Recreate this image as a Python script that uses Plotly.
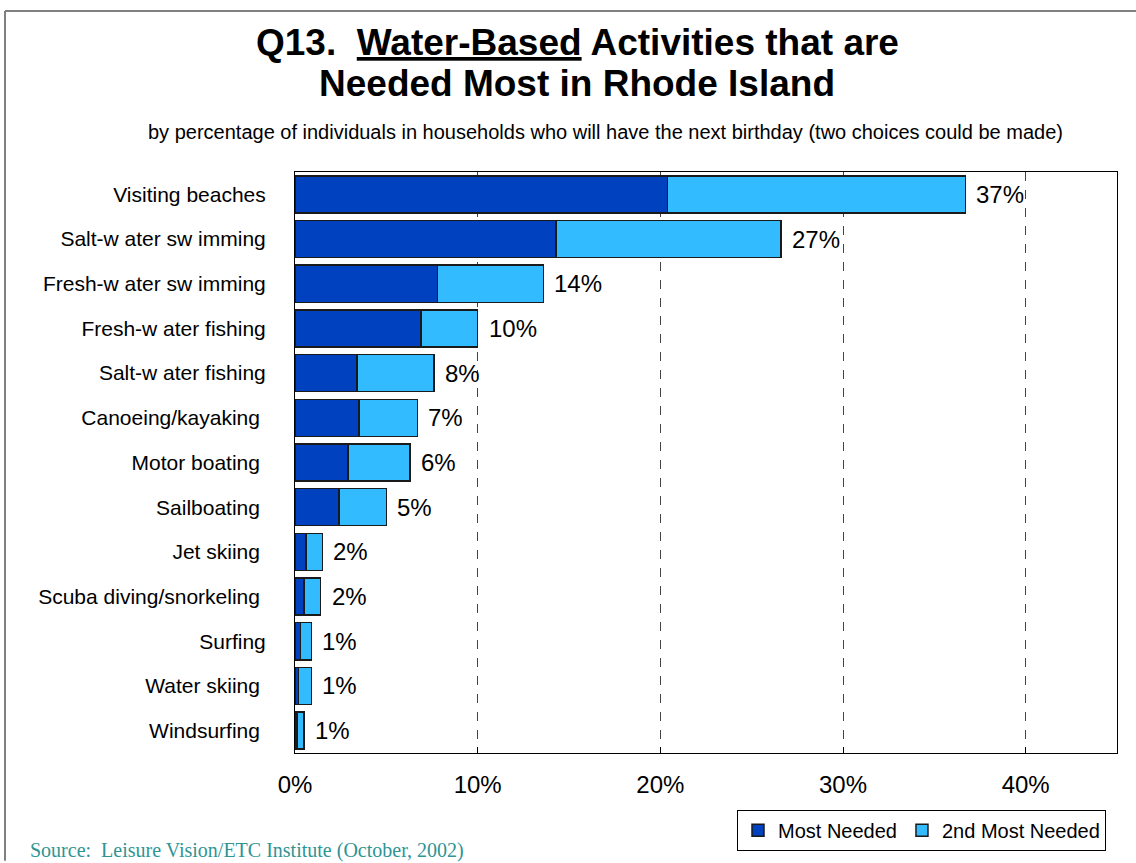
import plotly.graph_objects as go

# Survey data: share of respondents choosing each water-based activity
activities = [
    "Visiting beaches",
    "Salt-w ater sw imming",
    "Fresh-w ater sw imming",
    "Fresh-w ater fishing",
    "Salt-w ater fishing",
    "Canoeing/kayaking ",
    "Motor boating ",
    "Sailboating ",
    "Jet skiing ",
    "Scuba diving/snorkeling ",
    "Surfing",
    "Water skiing ",
    "Windsurfing ",
]
most_needed = [20.4, 14.3, 7.8, 6.9, 3.4, 3.5, 2.9, 2.4, 0.6, 0.5, 0.3, 0.2, 0.1]
second_most_needed = [16.3, 12.3, 5.8, 3.1, 4.2, 3.2, 3.4, 2.6, 0.9, 0.9, 0.6, 0.7, 0.4]
total_labels = ["37%", "27%", "14%", "10%", "8%", "7%", "6%", "5%", "2%", "2%", "1%", "1%", "1%"]

x_ticks = [0, 10, 20, 30, 40]
x_tick_text = ["0%", "10%", "20%", "30%", "40%"]

DARK = "#0041BF"
LIGHT = "#33BBFF"
FONT = "Liberation Sans, Arial, sans-serif"

W, H = 1136, 863
ML, MR, MT, MB = 295, 19, 172, 108
PW, PH = W - ML - MR, H - MT - MB


def px_x(p):
    return (p - ML) / PW


def px_y(p):
    return (H - MB - p) / PH


fig = go.Figure()
fig.add_trace(go.Bar(
    y=activities, x=most_needed, orientation="h", name="Most Needed",
    marker=dict(color=DARK, line=dict(color="#1a1a1a", width=1.5)),
))
fig.add_trace(go.Bar(
    y=activities, x=second_most_needed, orientation="h", name="2nd Most Needed",
    marker=dict(color=LIGHT, line=dict(color="#1a1a1a", width=1.5)),
))

annotations = []
for act, a, b, lab in zip(activities, most_needed, second_most_needed, total_labels):
    annotations.append(dict(
        x=a + b, y=act, xref="x", yref="y", text=lab, showarrow=False,
        xanchor="left", xshift=9, font=dict(family=FONT, size=24, color="#000"),
    ))

# Title block
title_font = dict(family=FONT, size=37, color="#000")
annotations += [
    dict(x=px_x(577), y=px_y(42), xref="paper", yref="paper", showarrow=False,
         xanchor="center", yanchor="middle",
         text="<b>Q13.  <u>Water-Based</u> Activities that are</b>", font=title_font),
    dict(x=px_x(577), y=px_y(83), xref="paper", yref="paper", showarrow=False,
         xanchor="center", yanchor="middle",
         text="<b>Needed Most in Rhode Island</b>", font=title_font),
    dict(x=px_x(605), y=px_y(132), xref="paper", yref="paper", showarrow=False,
         xanchor="center", yanchor="middle",
         text="by percentage of individuals in households who will have the next birthday (two choices could be made)",
         font=dict(family=FONT, size=20, color="#000")),
    dict(x=px_x(28), y=px_y(853), xref="paper", yref="paper", showarrow=False,
         xanchor="left", yanchor="middle",
         text="Source:  Leisure Vision/ETC Institute (October, 2002)",
         font=dict(family="Liberation Serif, Times New Roman, serif", size=20, color="#2E9494")),
]

shapes = [
    # page frame along the top and left edges
    dict(type="line", xref="paper", yref="paper", x0=px_x(5), x1=px_x(1136),
         y0=px_y(10.5), y1=px_y(10.5), line=dict(color="#808080", width=2)),
    dict(type="line", xref="paper", yref="paper", x0=px_x(5), x1=px_x(5),
         y0=px_y(10.5), y1=px_y(863), line=dict(color="#808080", width=2)),
]

fig.update_layout(
    width=W, height=H,
    margin=dict(l=ML, r=MR, t=MT, b=MB),
    barmode="stack", bargap=0.17,
    plot_bgcolor="white", paper_bgcolor="white",
    font=dict(family=FONT, color="#000"),
    annotations=annotations, shapes=shapes,
    legend=dict(
        orientation="h", x=px_x(1106), y=px_y(812), xanchor="right", yanchor="top",
        bordercolor="#000", borderwidth=1, bgcolor="white",
        font=dict(family=FONT, size=20), traceorder="normal",
        itemwidth=30, tracegroupgap=0,
    ),
)
fig.update_xaxes(
    range=[0, 45], tickvals=x_ticks, ticktext=x_tick_text,
    tickfont=dict(family=FONT, size=24), ticks="inside", ticklen=6, tickcolor="#000",
    ticklabelstandoff=10,
    showgrid=True, gridcolor="#444", griddash="dash", gridwidth=1,
    showline=True, linecolor="#000", linewidth=1, mirror=True, zeroline=False,
)
fig.update_yaxes(
    categoryorder="array", categoryarray=activities, autorange="reversed",
    tickfont=dict(family=FONT, size=21), ticks="", ticklabelstandoff=24,
    showline=True, linecolor="#000", linewidth=1, mirror=True,
)

fig.write_html("out.html")
